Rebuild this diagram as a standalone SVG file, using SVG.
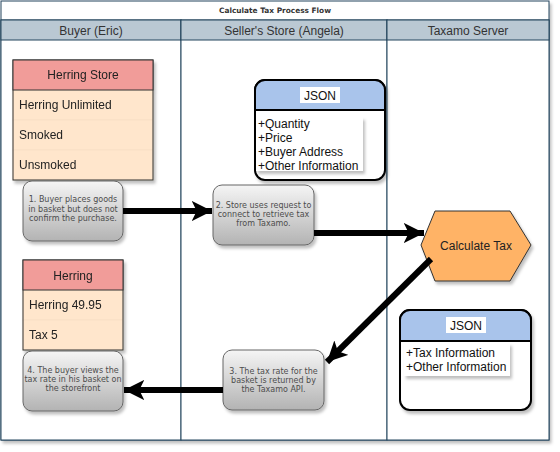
<svg xmlns="http://www.w3.org/2000/svg" width="560" height="452" viewBox="0 0 560 452">
<defs>
<linearGradient id="gstep" x1="0" y1="0" x2="0" y2="1">
<stop offset="0" stop-color="#f5f5f5"/>
<stop offset="1" stop-color="#b3b3b3"/>
</linearGradient>
<filter id="sh" x="-20%" y="-20%" width="140%" height="140%">
<feDropShadow dx="2" dy="3" stdDeviation="1.5" flood-color="#000" flood-opacity="0.25"/>
</filter>
<marker id="ah" viewBox="0 0 10 10" refX="10" refY="5" markerWidth="3.4" markerHeight="3.4" orient="auto" markerUnits="strokeWidth">
<path d="M0,0 L10,5 L0,10 L2.5,5 Z" fill="#000"/>
</marker>
</defs>
<style>
.lane{fill:#fff;stroke:#23445d;stroke-width:1}
.hdr{fill:#bac8d3;stroke:#23445d;stroke-width:1}
.hdrt{font-family:"Liberation Sans",Arial,sans-serif;font-size:12px;fill:#333;text-anchor:middle}
.step{fill:url(#gstep);stroke:#666;stroke-width:1;filter:url(#sh)}
.stept{font-family:"DejaVu Sans",Verdana,sans-serif;font-size:8px;fill:#4d4d4d;text-anchor:middle}
.th{fill:#f19c99;stroke:#333;stroke-width:1}
.tr{fill:#ffe6cc;stroke:#f3dcc4;stroke-width:0.6}
.tt{font-family:"Liberation Sans",Arial,sans-serif;font-size:12px;fill:#222}
.conn{fill:none;stroke:#000;stroke-width:6;marker-end:url(#ah)}
.json{fill:#fff;stroke:#000;stroke-width:2;filter:url(#sh)}
.jt{font-family:"Liberation Sans",Arial,sans-serif;font-size:12px;fill:#111}
</style>
<g id="pool">
<rect x="1" y="1" width="548" height="439" fill="#fff" stroke="#23445d" stroke-width="1" filter="url(#sh)"/>
<text x="275" y="13" font-family="DejaVu Sans,Verdana,sans-serif" font-size="7.4" font-weight="bold" fill="#333" text-anchor="middle">Calculate Tax Process Flow</text>
</g>
<g id="lane-buyer">
<rect class="lane" x="1" y="20" width="180" height="420"/>
<rect class="hdr" x="1" y="20" width="180" height="20"/>
<text class="hdrt" x="91" y="35">Buyer (Eric)</text>
</g>
<g id="lane-seller">
<rect class="lane" x="181" y="20" width="206" height="420"/>
<rect class="hdr" x="181" y="20" width="206" height="20"/>
<text class="hdrt" x="284" y="35">Seller's Store (Angela)</text>
</g>
<g id="lane-taxamo">
<rect class="lane" x="387" y="20" width="162" height="420"/>
<rect class="hdr" x="387" y="20" width="162" height="20"/>
<text class="hdrt" x="468" y="35">Taxamo Server</text>
</g>
<g id="herring-store" filter="url(#sh)">
<rect class="tr" x="13" y="90" width="140" height="30"/>
<rect class="tr" x="13" y="120" width="140" height="30"/>
<rect class="tr" x="13" y="150" width="140" height="30"/>
<rect x="13" y="60" width="140" height="120" fill="none" stroke="#333" stroke-width="1"/>
<rect class="th" x="13" y="60" width="140" height="30"/>
<text class="tt" x="83" y="79" text-anchor="middle">Herring Store</text>
<text class="tt" x="19" y="109">Herring Unlimited</text>
<text class="tt" x="19" y="139">Smoked</text>
<text class="tt" x="19" y="169">Unsmoked</text>
</g>
<g id="step1">
<rect class="step" x="23" y="181" width="100" height="60" rx="9"/>
<text class="stept" x="73" y="202">1. Buyer places goods</text>
<text class="stept" x="73" y="211.5">in basket but does not</text>
<text class="stept" x="73" y="221">confirm the purchase.</text>
</g>
<g id="json1">
<rect class="json" x="255" y="80" width="130" height="100" rx="10"/>
<path d="M255,110 V90 A10,10 0 0 1 265,80 H375 A10,10 0 0 1 385,90 V110 Z" fill="#a9c4eb" stroke="#000" stroke-width="2"/>
<rect x="300" y="87" width="40" height="16" fill="#fff"/>
<text class="jt" x="320" y="99.5" text-anchor="middle" font-size="13">JSON</text>
<rect x="256" y="117" width="107" height="54" fill="#fff" filter="url(#sh)"/>
<text class="jt" x="258" y="128">+Quantity</text>
<text class="jt" x="258" y="142">+Price</text>
<text class="jt" x="258" y="156">+Buyer Address</text>
<text class="jt" x="258" y="170">+Other Information</text>
</g>
<g id="step2">
<rect class="step" x="213" y="185" width="101" height="60" rx="9"/>
<text class="stept" x="263.5" y="208">2. Store uses request to</text>
<text class="stept" x="263.5" y="217">connect to retrieve tax</text>
<text class="stept" x="263.5" y="226">from Taxamo.</text>
</g>
<g id="calc-tax">
<polygon points="421,245 435,211 510,211 531,245 510,281 435,281" fill="#ffb366" stroke="#333" stroke-width="1" filter="url(#sh)"/>
<text class="tt" x="476" y="249.5" text-anchor="middle" fill="#333">Calculate Tax</text>
</g>
<g id="json2">
<rect class="json" x="400" y="310" width="131" height="100" rx="10"/>
<path d="M400,341 V320 A10,10 0 0 1 410,310 H521 A10,10 0 0 1 531,320 V341 Z" fill="#a9c4eb" stroke="#000" stroke-width="2"/>
<rect x="446" y="317" width="40" height="16" fill="#fff"/>
<text class="jt" x="466" y="330" text-anchor="middle" font-size="13">JSON</text>
<rect x="404" y="343" width="106" height="33" fill="#fff" filter="url(#sh)"/>
<text class="jt" x="406" y="357">+Tax Information</text>
<text class="jt" x="406" y="371">+Other Information</text>
</g>
<g id="herring" filter="url(#sh)">
<rect class="tr" x="23" y="290" width="100" height="30"/>
<rect class="tr" x="23" y="320" width="100" height="30"/>
<rect x="23" y="260" width="100" height="90" fill="none" stroke="#333" stroke-width="1"/>
<rect class="th" x="23" y="260" width="100" height="30"/>
<text class="tt" x="73" y="279.5" text-anchor="middle">Herring</text>
<text class="tt" x="29" y="309">Herring 49.95</text>
<text class="tt" x="29" y="339">Tax 5</text>
</g>
<g id="step3">
<rect class="step" x="223" y="350" width="101" height="60" rx="9"/>
<text class="stept" x="273.5" y="374">3. The tax rate for the</text>
<text class="stept" x="273.5" y="383">basket is returned by</text>
<text class="stept" x="273.5" y="392">the Taxamo API.</text>
</g>
<g id="step4">
<rect class="step" x="23" y="351" width="100" height="60" rx="9"/>
<text class="stept" x="73" y="373">4. The buyer views the</text>
<text class="stept" x="73" y="382">tax rate in his basket on</text>
<text class="stept" x="73" y="391">the storefront</text>
</g>
<g id="connectors">
<path class="conn" d="M123,211 H212"/>
<path class="conn" d="M314,233 H424"/>
<path class="conn" d="M431,259 L327,362"/>
<path class="conn" d="M223,390 H124"/>
</g>
</svg>
